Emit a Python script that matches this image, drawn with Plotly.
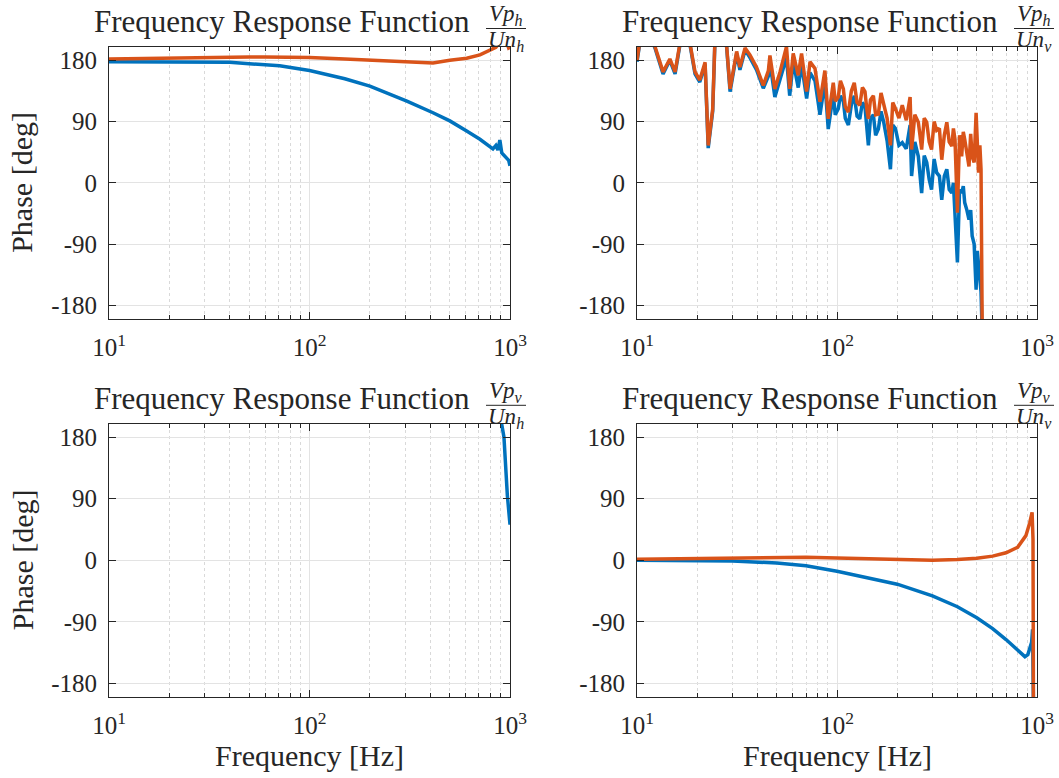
import plotly.graph_objects as go

# ---------------- data ----------------
freq_ticks = [10, 100, 1000]
freq_tick_text = ["10<sup>1</sup>", "10<sup>2</sup>", "10<sup>3</sup>"]
freq_minor = [20, 30, 40, 50, 60, 70, 80, 90, 200, 300, 400, 500, 600, 700, 800, 900]
phase_ticks = [-180, -90, 0, 90, 180]
phase_tick_text = ["-180", "-90", "0", "90", "180"]

title_main = "Frequency Response Function"
num_sub = ["h", "h", "v", "v"]   # Vp_?
den_sub = ["h", "v", "h", "v"]   # Un_?

# Panel 1: Vp_h / Un_h
f_hh = [10, 15, 20, 30, 40, 50, 60, 71, 100, 150, 200, 306, 413, 501, 608, 708,
        822, 850, 870, 890, 910, 950, 985, 1000]
blue_hh = [178, 178, 178, 178, 177, 175, 174, 172, 165, 153, 142, 120, 103, 91, 76, 64,
           50, 55, 48, 63, 44, 38, 33, 25]
orange_hh = [182, 183, 184, 185, 185, 185, 185, 185, 184, 182, 180, 178, 176, 180, 183, 188,
             196, 199, 203, 208, 214, 212, 198, 199]

# Panel 2: Vp_h / Un_v
f_hv = [10, 10.3, 11, 12, 12.3, 13.5, 14.6, 15.5, 16.4, 17, 18.4, 19.5, 20.6, 21.9, 22.7,
        23.9, 24.5, 26, 28, 29.2, 31.5, 32.7, 34.7, 36.7, 39.6, 42.8,
        45.4, 46.2, 48.9, 51.9, 55.9, 58, 60.4, 64, 66.5, 70.5, 73.3, 77.6, 82.2, 87, 90.4,
        95.8, 98, 101.5, 104, 107.6, 110, 114, 118, 122, 126,
        130, 134, 138, 141, 143.5, 147, 152, 156, 161, 166,
        171, 178, 185, 190, 196, 204, 212, 222, 232, 236,
        245, 255, 260, 265, 273, 281, 289, 297, 306, 315,
        325, 334, 344, 354, 364, 375, 382, 389, 400, 410,
        420, 428, 435, 446, 457, 466, 474, 485, 496, 503,
        510, 518, 525, 532, 540]
orange_hv = [180, 205, 215, 208, 200, 163, 182, 163, 205, 215, 205, 163, 151, 177, 55,
             108, 205, 215, 205, 138, 193, 170, 198, 188, 170, 143,
             165, 187, 138, 163, 200, 138, 190, 158, 190, 134, 178, 168, 119, 165, 94,
             147, 120, 126, 150, 138, 112, 104, 135, 147, 118,
             114, 140, 134, 108, 94, 122, 128, 100, 101, 132,
             116, 95, 55, 118, 109, 95, 114, 92, 126, 49,
             100, 89, 70, 49, 95, 89, 60, 49, 90, 77,
             80, 34, 70, 89, 60, 54, 80, 64, -44, 70,
             39, 75, 64, 40, 24, 72, 39, 30, 103, 60,
             15, 55, 20, -210, -230]
blue_hv = [178, 203, 213, 206, 198, 160, 180, 160, 203, 213, 203, 160, 148, 174, 51,
           105, 203, 213, 203, 134, 190, 166, 195, 184, 166, 139,
           157, 178, 126, 152, 184, 128, 178, 140, 174, 124, 162, 150, 100, 148, 79,
           130, 100, 109, 128, 120, 95, 85, 115, 128, 98,
           94, 118, 112, 80, 55, 95, 100, 70, 79, 105,
           90, 62, 20, 85, 80, 55, 59, 50, 85, 10,
           60, 39, 15, -15, 40, 30, 5, -10, 35, 15,
           10, -25, 10, 20, -10, -15, 0, -39, -117, -10,
           -15, -5, -29, -40, -54, -40, -78, -90, -157, -100,
           -117, -140, -160, -220, -240]

# Panel 3: Vp_v / Un_h (only the blue end is in range)
f_vh = [850, 880, 908, 933, 970, 1000]
blue_vh = [280, 235, 200, 180, 95, 52]

# Panel 4: Vp_v / Un_v
f_vv_b = [10, 20, 30, 50, 70, 100, 150, 200, 300, 400, 500, 600, 700, 800, 870, 900,
          940, 950, 955, 960]
blue_vv = [0, 0, -1, -4, -8, -16, -27, -35, -52, -68, -84, -100, -116, -131, -141, -138,
           -120, -101, -140, -210]
f_vv_o = [10, 30, 50, 70, 100, 200, 300, 400, 500, 600, 700, 800, 880, 920, 945, 955, 960]
orange_vv = [1.5, 3, 4, 4.4, 3.4, 1.5, 0, 1, 3, 6, 11, 19, 36, 55, 70, 31, -210]

BLUE = "#0072BD"
ORANGE = "#D95319"
FONT = "Liberation Serif"
INK = "#262626"
W, H = 1059, 778

# ---------------- figure ----------------
fig = go.Figure()

panels = [
    dict(xa="x", ya="y", traces=[(f_hh, blue_hh, BLUE), (f_hh, orange_hh, ORANGE)]),
    dict(xa="x2", ya="y2", traces=[(f_hv, blue_hv, BLUE), (f_hv, orange_hv, ORANGE)]),
    dict(xa="x3", ya="y3", traces=[(f_vh, blue_vh, BLUE)]),
    dict(xa="x4", ya="y4", traces=[(f_vv_b, blue_vv, BLUE), (f_vv_o, orange_vv, ORANGE)]),
]
for p in panels:
    for fx, fy, col in p["traces"]:
        fig.add_trace(go.Scatter(x=fx, y=fy, mode="lines", xaxis=p["xa"], yaxis=p["ya"],
                                 line=dict(color=col, width=3.5), showlegend=False,
                                 hoverinfo="skip"))

# pixel boxes of the axes (left, right, top, bottom)
boxes = [(109, 510, 46.7, 319), (637, 1037, 46.7, 319),
         (109, 510, 423.5, 697), (637, 1037, 423.5, 697)]


def px(x):
    return x / W


def py(y):
    return 1 - y / H


GRID = "#e3e3e3"
MINOR_GRID = "#d9d9d9"

layout = dict(width=W, height=H, margin=dict(l=0, r=0, t=0, b=0, pad=0), autosize=False,
              paper_bgcolor="white", plot_bgcolor="white", showlegend=False,
              font=dict(family=FONT, color=INK))

for i, (l, r, t, b) in enumerate(boxes):
    sx = "" if i == 0 else str(i + 1)
    layout["xaxis" + sx] = dict(
        type="log", range=[1, 3], domain=[px(l), px(r)], anchor="y" + sx,
        automargin=False,
        tickmode="array", tickvals=freq_ticks, ticktext=freq_tick_text,
        ticks="inside", ticklen=7, tickcolor=INK, tickwidth=1,
        showgrid=True, gridcolor=GRID, gridwidth=1,
        minor=dict(tickmode="array", tickvals=freq_minor, ticks="inside", ticklen=4,
                   tickcolor=INK, showgrid=True, gridcolor=MINOR_GRID,
                   griddash="dot", gridwidth=1),
        showline=True, linecolor=INK, linewidth=1, mirror="allticks",
        zeroline=False, tickfont=dict(family=FONT, size=25, color=INK),
        ticklabelstandoff=6, fixedrange=True)
    layout["yaxis" + sx] = dict(
        range=[-200, 200], domain=[py(b), py(t)], anchor="x" + sx,
        automargin=False,
        tickmode="array", tickvals=phase_ticks, ticktext=phase_tick_text,
        ticks="inside", ticklen=7, tickcolor=INK, tickwidth=1,
        showgrid=True, gridcolor=GRID, gridwidth=1,
        showline=True, linecolor=INK, linewidth=1, mirror="allticks",
        zeroline=False, tickfont=dict(family=FONT, size=25, color=INK),
        ticklabelstandoff=6, fixedrange=True)

annotations = []
shapes = []
for i, (l, r, t, b) in enumerate(boxes):
    dy = t - 46.7
    # main title text
    annotations.append(dict(text=title_main, x=px(l + 173), y=py(22 + dy),
                            xref="paper", yref="paper", xanchor="center", yanchor="middle",
                            showarrow=False, font=dict(family=FONT, size=31, color=INK)))
    fx = l + 397
    annotations.append(dict(text="<i>Vp</i><sub><i>%s</i></sub>" % num_sub[i],
                            x=px(fx), y=py(15 + dy), xref="paper", yref="paper",
                            xanchor="center", yanchor="middle", showarrow=False,
                            font=dict(family=FONT, size=23, color=INK)))
    annotations.append(dict(text="<i>Un</i><sub><i>%s</i></sub>" % den_sub[i],
                            x=px(fx), y=py(41 + dy), xref="paper", yref="paper",
                            xanchor="center", yanchor="middle", showarrow=False,
                            font=dict(family=FONT, size=23, color=INK)))
    shapes.append(dict(type="line", xref="paper", yref="paper",
                       x0=px(fx - 20), x1=px(fx + 20), y0=py(28.5 + dy), y1=py(28.5 + dy),
                       line=dict(color=INK, width=1)))

# axis labels
for cx in [(109 + 510) / 2, (637 + 1037) / 2]:
    annotations.append(dict(text="Frequency [Hz]", x=px(cx), y=py(755), xref="paper",
                            yref="paper", xanchor="center", yanchor="middle", showarrow=False,
                            font=dict(family=FONT, size=30, color=INK)))
for cy in [(46.7 + 319) / 2, (423.5 + 697) / 2]:
    annotations.append(dict(text="Phase [deg]", x=px(22), y=py(cy), xref="paper",
                            yref="paper", xanchor="center", yanchor="middle", showarrow=False,
                            textangle=-90, font=dict(family=FONT, size=30, color=INK)))

layout["annotations"] = annotations
layout["shapes"] = shapes
fig.update_layout(**layout)

fig.write_html("out.html")
